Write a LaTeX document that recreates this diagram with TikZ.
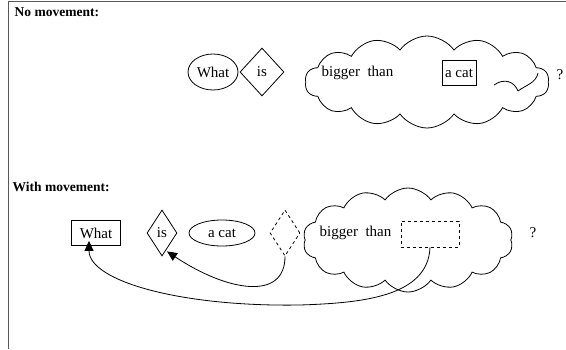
\documentclass[tikz,border=0pt]{standalone}
\usepackage{fontspec}
\setmainfont{Liberation Serif}
\usetikzlibrary{shapes,arrows.meta,positioning}

\begin{document}
\begin{tikzpicture}[x=1pt, y=-1pt, line width=0.8pt,
    every node/.style={font=\fontsize{15}{17}\selectfont},
    bubble/.style={draw, cloud, cloud puffs=14, cloud puff arc=110, cloud ignores aspect},
    move/.style={-{Triangle[length=10pt,width=9pt]}}]
    \useasboundingbox (0,0) rectangle (566,349);
    \draw[gray!70!black] (566,1) -- (8,1) -- (8,349);

    % no movement
    \node[anchor=west, font=\fontsize{13.5}{16}\bfseries\selectfont] (title1) at (11,12) {No movement:};
    \node[draw, ellipse, inner sep=0pt, minimum width=50pt, minimum height=36pt] (What1) at (213,72) {What};
    \node[draw, diamond, inner sep=1pt, minimum width=44pt, minimum height=48pt] (is1) at (262,72) {is};
    \node[bubble, minimum width=244pt, minimum height=92pt] (cloud1) at (427,82) {};
    \node[anchor=west] (big1) at (318,73) {bigger\ \ than};
    \node[draw, inner sep=3pt, minimum height=25pt] (cat1) at (459,73) {a cat};
    \node (q1) at (560,75) {?};
    \draw (494,85) .. controls (504,78) and (514,81) .. (518,91);
    \draw (518,91) .. controls (526,85) and (536,83) .. (538,73);

    % with movement
    \node[anchor=west, font=\fontsize{13.5}{16}\bfseries\selectfont] (title2) at (9,187) {With movement:};
    \node[draw, inner sep=3pt, minimum width=49pt, minimum height=25pt] (What2) at (96,233) {What};
    \node[draw, diamond, inner sep=0pt, minimum width=30pt, minimum height=46pt] (is2) at (162,233) {is};
    \node[draw, ellipse, inner sep=0pt, minimum width=66pt, minimum height=26pt] (cat2) at (222,233) {a cat};
    \node[draw, dashed, diamond, minimum width=30pt, minimum height=46pt] (is3) at (285,233) {};
    \node[bubble, minimum width=210pt, minimum height=104pt] (cloud2) at (408,240) {};
    \node[anchor=west] (big2) at (316,233) {bigger\ \ than};
    \node[draw, dashed, minimum width=58pt, minimum height=26pt] (cat3) at (430,234) {};
    \node (q2) at (533,233) {?};

    \draw[move] (is3.south) .. controls +(0,45) and +(60,40) .. ([xshift=5pt,yshift=5pt]is2.south);
    \draw[move] (cat3.south) .. controls +(-2,50) and +(60,-2) .. (300,305)
        .. controls +(-120,2) and +(0,40) .. ([xshift=-7pt,yshift=5pt]What2.south);
\end{tikzpicture}
\end{document}
